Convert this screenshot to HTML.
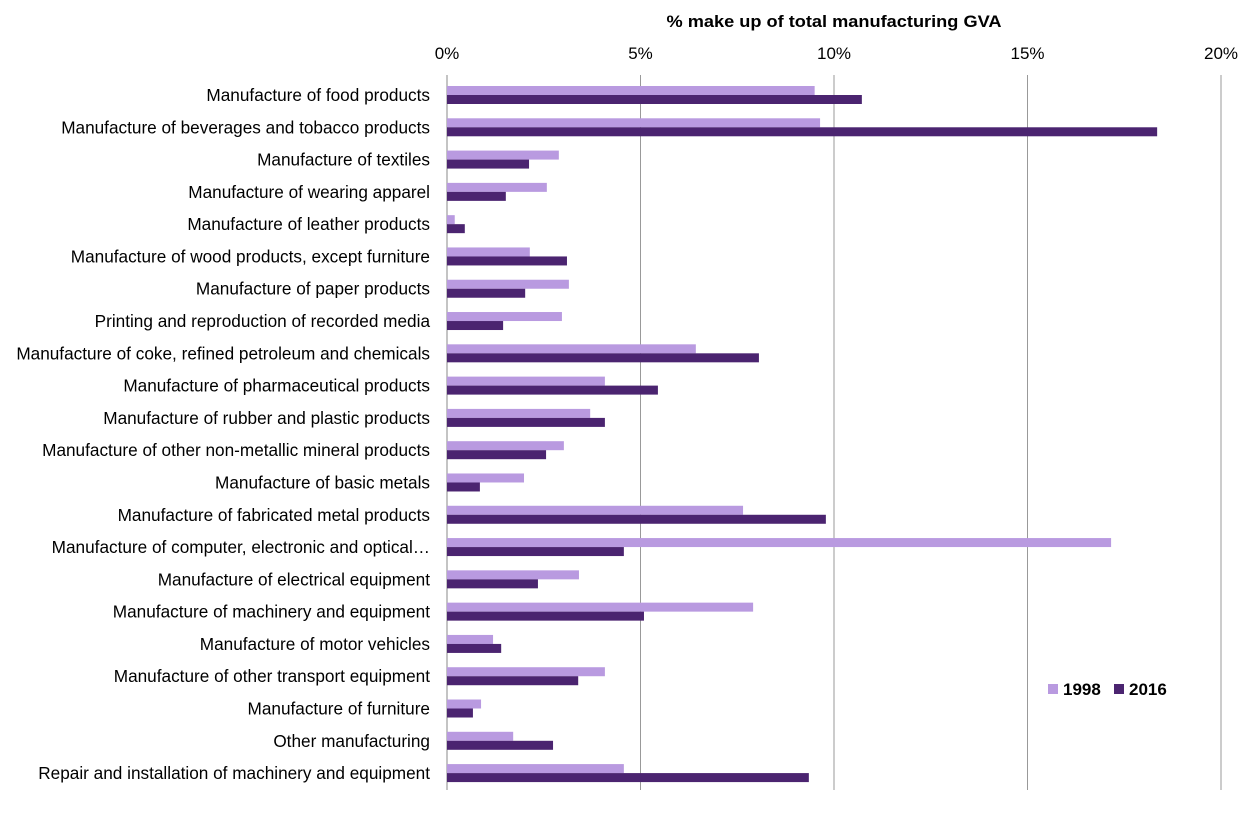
<!DOCTYPE html>
<html><head><meta charset="utf-8"><style>
body{margin:0;background:#fff;font-family:"Liberation Sans",Arial,sans-serif}
svg text{font-family:"Liberation Sans",Arial,sans-serif}
</style></head><body>
<svg id="chart" width="1252" height="817" xmlns="http://www.w3.org/2000/svg">
<text x="834" y="27" text-anchor="middle" font-size="17" font-weight="bold" textLength="335" lengthAdjust="spacingAndGlyphs">% make up of total manufacturing GVA</text>
<g id="grid"></g><g id="bars"></g><g id="labels"></g>
<g>
<rect x="1048" y="684" width="10" height="10" fill="#b99ae0"/>
<text x="1063" y="695" font-size="17" font-weight="bold">1998</text>
<rect x="1114" y="684" width="10" height="10" fill="#4b2470"/>
<text x="1129" y="695" font-size="17" font-weight="bold">2016</text>
</g>
</svg>
<script>
const categories=["Manufacture of food products","Manufacture of beverages and tobacco products","Manufacture of textiles","Manufacture of wearing apparel","Manufacture of leather products","Manufacture of wood products, except furniture","Manufacture of paper products","Printing and reproduction of recorded media","Manufacture of coke, refined petroleum and chemicals","Manufacture of pharmaceutical products","Manufacture of rubber and plastic products","Manufacture of other non-metallic mineral products","Manufacture of basic metals","Manufacture of fabricated metal products","Manufacture of computer, electronic and optical…","Manufacture of electrical equipment","Manufacture of machinery and equipment","Manufacture of motor vehicles","Manufacture of other transport equipment","Manufacture of furniture","Other manufacturing","Repair and installation of machinery and equipment"];
const values1998=[9.5,9.64,2.89,2.58,0.2,2.14,3.15,2.97,6.43,4.08,3.7,3.02,1.99,7.65,17.16,3.41,7.91,1.19,4.08,0.88,1.71,4.57];
const values2016=[10.72,18.35,2.12,1.52,0.46,3.1,2.02,1.45,8.06,5.45,4.08,2.56,0.85,9.79,4.57,2.35,5.09,1.4,3.39,0.67,2.74,9.35];
const ticks=[0,5,10,15,20];
const tickLabels=["0%","5%","10%","15%","20%"];
const NS="http://www.w3.org/2000/svg";
const x=v=>447+v*38.7;
const yc=i=>95+i*32.29;
function mk(t,a,p){const e=document.createElementNS(NS,t);for(const k in a)e.setAttribute(k,a[k]);p.appendChild(e);return e;}
const grid=document.getElementById('grid'),bars=document.getElementById('bars'),labels=document.getElementById('labels');
ticks.forEach((t,i)=>{
 const l=mk('line',{x1:x(t),x2:x(t),y1:75,y2:790,stroke:i==0?'#888':'#999','stroke-width':1},grid);
 
 
 const tx=mk('text',{x:x(t),y:59,'text-anchor':'middle','font-size':17},grid);
 tx.textContent=tickLabels[i];
 
 
});
categories.forEach((c,i)=>{
 const a=mk('rect',{x:x(0),y:yc(i)-9,width:x(values1998[i])-x(0),height:9,fill:'#b99ae0'},bars);
 
 
 const b=mk('rect',{x:x(0),y:yc(i),width:x(values2016[i])-x(0),height:9,fill:'#4b2470'},bars);
 
 
 const t=mk('text',{x:430,y:yc(i)+6,'text-anchor':'end','font-size':17.2},labels);
 t.textContent=c;
 
 
});
</script>
</body></html>
